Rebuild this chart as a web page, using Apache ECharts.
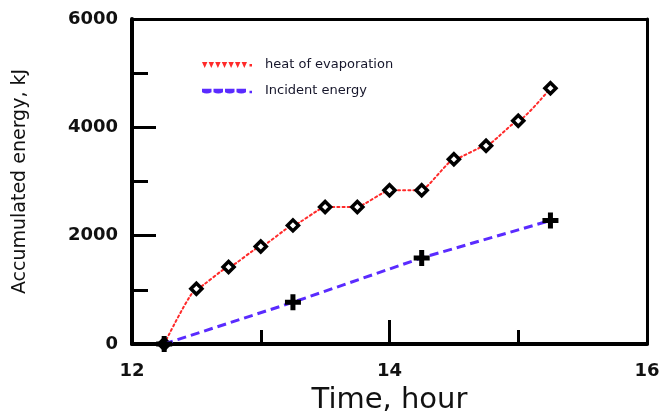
<!DOCTYPE html>
<html>
<head>
<meta charset="utf-8">
<script src="https://cdn.jsdelivr.net/npm/echarts@6/dist/echarts.min.js"></script>
<style>
  html, body { margin: 0; padding: 0; background: #fff; }
  #chart { width: 660px; height: 416px; }
</style>
</head>
<body>
<div id="chart"></div>
<script>
// Accumulated energy over the afternoon (kJ vs. clock hour)
const evapHours = [12.25, 12.5, 12.75, 13.0, 13.25, 13.5, 13.75, 14.0, 14.25, 14.5, 14.75, 15.0, 15.25];
const heatOfEvaporation = [0, 1020, 1420, 1800, 2190, 2530, 2530, 2840, 2840, 3410, 3660, 4120, 4720];

const incidentHours = [12.25, 13.25, 14.25, 15.25];
const incidentEnergy = [0, 770, 1590, 2280];

const seriesNames = ['heat of evaporation', 'Incident energy'];
const xRange = [12, 16];
const yRange = [0, 6000];

const FONT = '"DejaVu Sans", "Liberation Sans", sans-serif';
const RED = '#ff2a2a';
const BLUE = '#5a2bff';

const pairs = (xs, ys) => xs.map((x, i) => [x, ys[i]]);

// legend glyphs: a row of small red arrowheads, and a row of blue dashes
let tri = '';
for (let i = 0; i < 7; i++) tri += 'M' + (i * 6.6) + ',0h5.4l-2.7,6z';
tri += 'M47.5,2h2.5v2.5h-2.5z';
let dash = '';
for (let i = 0; i < 4; i++) dash += 'M' + (i * 11.5) + ',0h9.5v3.5q-4.75,2.5,-9.5,0z';
dash += 'M47.5,2h2.5v2.5h-2.5z';

const plusPath = 'path://M5.5,0H10.5V5.5H16V10.5H10.5V16H5.5V10.5H0V5.5H5.5Z';

// plain frame lines for the top and right edges of the plot box
const frameAxis = (extra) => Object.assign({
  type: 'value',
  axisLine: { show: true, onZero: false, lineStyle: { color: '#000', width: 3 } },
  axisTick: { show: false },
  minorTick: { show: false },
  axisLabel: { show: false },
  splitLine: { show: false }
}, extra);

const chart = echarts.init(document.getElementById('chart'), null, { renderer: 'canvas' });

chart.setOption({
  backgroundColor: '#ffffff',
  animation: false,
  grid: {
    left: 132, right: 13, top: 19, bottom: 72,
    outerBoundsMode: 'none',
    containLabel: false,
    show: false
  },
  legend: {
    orient: 'vertical',
    left: 197, top: 52,
    itemWidth: 50, itemHeight: 6,
    itemGap: 10,
    textStyle: {
      fontFamily: FONT, fontSize: 13, color: '#15152a',
      lineHeight: 16, padding: [0, 0, 0, 8]
    },
    data: [
      { name: seriesNames[0], icon: 'path://' + tri, itemStyle: { color: RED, borderWidth: 0 } },
      { name: seriesNames[1], icon: 'path://' + dash, itemStyle: { color: BLUE, borderWidth: 0 } }
    ]
  },
  xAxis: [
    {
      type: 'value',
      position: 'bottom',
      min: xRange[0], max: xRange[1], interval: 2,
      name: 'Time, hour',
      nameLocation: 'middle',
      nameGap: 42,
      nameTextStyle: { fontFamily: FONT, fontSize: 29, color: '#111' },
      axisLine: { onZero: false, lineStyle: { color: '#000', width: 4 } },
      axisTick: { inside: true, length: 24, lineStyle: { color: '#000', width: 3 } },
      minorTick: { show: true, splitNumber: 2, length: 14, lineStyle: { color: '#000', width: 3 } },
      splitLine: { show: false },
      axisLabel: { fontFamily: FONT, fontSize: 18, fontWeight: 'bold', color: '#111', margin: 18 }
    },
    frameAxis({ position: 'top', min: xRange[0], max: xRange[1] })
  ],
  yAxis: [
    {
      type: 'value',
      position: 'left',
      min: yRange[0], max: yRange[1], interval: 2000,
      name: 'Accumulated energy, kJ',
      nameLocation: 'middle',
      nameGap: 102,
      nameTextStyle: { fontFamily: FONT, fontSize: 19, color: '#111' },
      axisLine: { onZero: false, lineStyle: { color: '#000', width: 4 } },
      axisTick: { inside: true, length: 24, lineStyle: { color: '#000', width: 3 } },
      minorTick: { show: true, splitNumber: 2, length: 16, lineStyle: { color: '#000', width: 3 } },
      splitLine: { show: false },
      axisLabel: {
        fontFamily: FONT, fontSize: 18, fontWeight: 'bold', color: '#111', margin: 14,
        formatter: (v) => String(v)
      }
    },
    frameAxis({ position: 'right', min: yRange[0], max: yRange[1] })
  ],
  series: [
    {
      name: seriesNames[0],
      type: 'line',
      data: pairs(evapHours, heatOfEvaporation),
      smooth: 0.15,
      smoothMonotone: 'x',
      symbol: 'diamond',
      symbolSize: 11,
      lineStyle: { color: RED, width: 2, type: [2, 3], cap: 'round' },
      itemStyle: { color: '#ffffff', borderColor: '#000', borderWidth: 3.5 },
      z: 3
    },
    {
      name: seriesNames[1],
      type: 'line',
      data: pairs(incidentHours, incidentEnergy),
      symbol: plusPath,
      symbolSize: 16,
      lineStyle: { color: BLUE, width: 3, type: [9, 5] },
      itemStyle: { color: '#000', borderWidth: 0 },
      z: 4
    }
  ]
});
</script>
</body>
</html>
